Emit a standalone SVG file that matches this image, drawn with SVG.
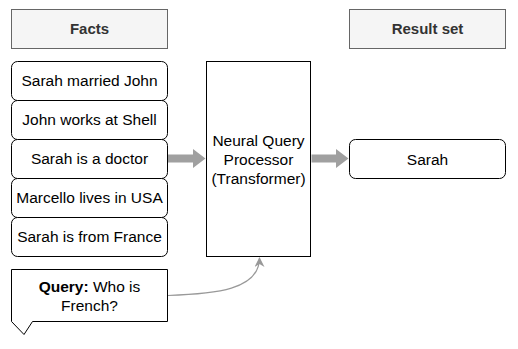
<svg xmlns="http://www.w3.org/2000/svg" width="518" height="349" viewBox="0 0 518 349">
  <defs>
    <style>
      .hdr { fill: #f5f5f5; stroke: #666666; stroke-width: 1; }
      .hdr-t { font-family: "Liberation Sans", Arial, sans-serif; font-size: 15px; font-weight: bold; fill: #333333; text-anchor: middle; }
      .box { fill: #ffffff; stroke: #000000; stroke-width: 1; }
      .t { font-family: "Liberation Sans", Arial, sans-serif; font-size: 15.5px; fill: #000000; text-anchor: middle; }
      .flow { fill: #a0a0a0; stroke: none; }
      .link { fill: none; stroke: #999999; stroke-width: 1.2; }
    </style>
    <marker id="head" viewBox="0 0 10 10" refX="9" refY="5" markerWidth="10" markerHeight="10" markerUnits="userSpaceOnUse" orient="auto">
      <path d="M0,0 L10,5 L0,10 L3,5 Z" fill="#999999"/>
    </marker>
  </defs>

  <!-- column headers -->
  <g id="facts-header">
    <rect class="hdr" x="11.5" y="9.5" width="156" height="39"/>
    <text class="hdr-t" x="89.5" y="34.3">Facts</text>
  </g>
  <g id="result-header">
    <rect class="hdr" x="349.5" y="9.5" width="156" height="39"/>
    <text class="hdr-t" x="427.5" y="34.3">Result set</text>
  </g>

  <!-- fact list -->
  <g id="fact-1">
    <rect class="box" x="11.5" y="61.5" width="156" height="39" rx="6"/>
    <text class="t" x="89.5" y="86">Sarah married John</text>
  </g>
  <g id="fact-2">
    <rect class="box" x="11.5" y="100.5" width="156" height="39" rx="6"/>
    <text class="t" x="89.5" y="125">John works at Shell</text>
  </g>
  <g id="fact-3">
    <rect class="box" x="11.5" y="139.5" width="156" height="39" rx="6"/>
    <text class="t" x="89.5" y="164">Sarah is a doctor</text>
  </g>
  <g id="fact-4">
    <rect class="box" x="11.5" y="178.5" width="156" height="39" rx="6"/>
    <text class="t" x="89.5" y="203">Marcello lives in USA</text>
  </g>
  <g id="fact-5">
    <rect class="box" x="11.5" y="217.5" width="156" height="39" rx="6"/>
    <text class="t" x="89.5" y="242">Sarah is from France</text>
  </g>

  <!-- query callout -->
  <g id="query">
    <path class="box" d="M11.5,269.5 H167.5 V321.5 H32.5 L24,334.5 L11.5,321.5 Z"/>
    <text class="t" x="89.5" y="292.3"><tspan font-weight="bold">Query:</tspan> Who is</text>
    <text class="t" x="89.5" y="310.5">French?</text>
  </g>

  <!-- processor -->
  <g id="processor">
    <rect class="box" x="206.5" y="61.5" width="104" height="195"/>
    <text class="t" x="258.5" y="145.5">Neural Query</text>
    <text class="t" x="258.5" y="164.5">Processor</text>
    <text class="t" x="258.5" y="183.5">(Transformer)</text>
  </g>

  <!-- result -->
  <g id="result">
    <rect class="box" x="349.5" y="139.5" width="156" height="39" rx="6"/>
    <text class="t" x="427.5" y="164.7">Sarah</text>
  </g>

  <!-- connectors -->
  <g id="connectors">
    <path class="flow" d="M168,154.5 H193 V149 L205.5,158.5 L193,168 V162.5 H168 Z"/>
    <path class="flow" d="M311.5,154.5 H336 V149 L348.5,158.5 L336,168 V162.5 H311.5 Z"/>
    <path class="link" d="M168,295.5 C215,294 259.5,290 259.5,258" marker-end="url(#head)"/>
  </g>
</svg>
